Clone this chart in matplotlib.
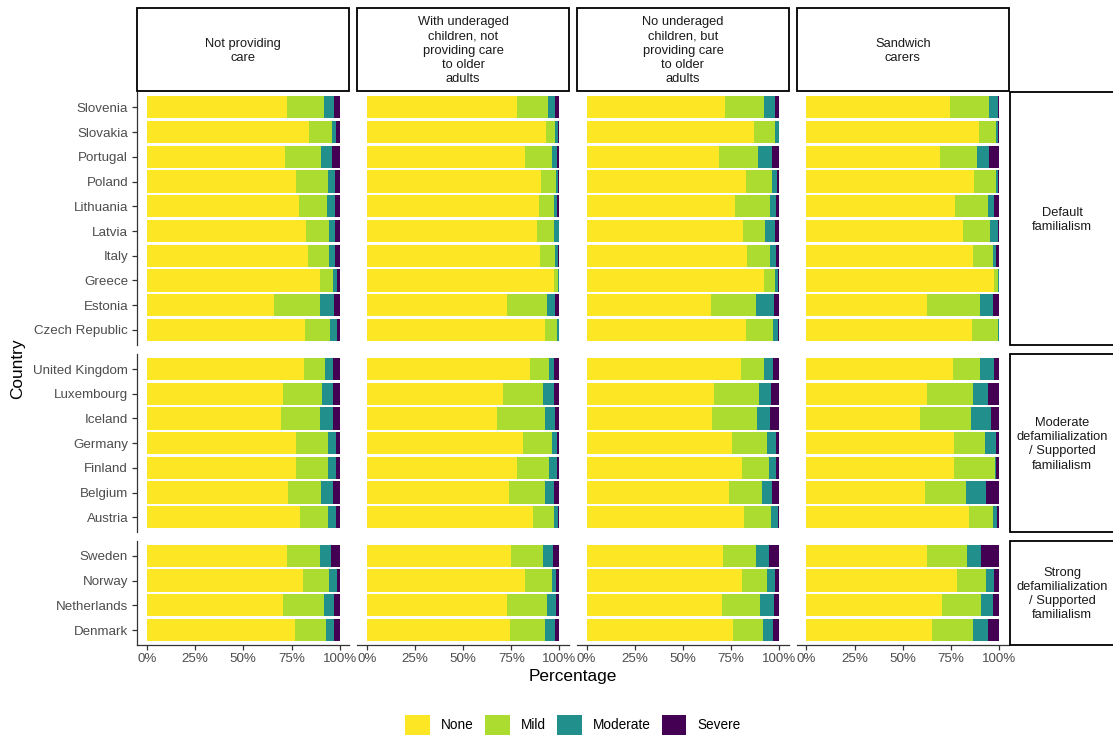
import matplotlib
matplotlib.use("Agg")
import matplotlib.pyplot as plt
import numpy as np
from matplotlib.patches import Rectangle

plt.rcParams["font.family"] = ["Liberation Sans", "DejaVu Sans"]

# categories / labels
levels = ["None", "Mild", "Moderate", "Severe"]
colors = ["#FDE725", "#ADDC30", "#21908C", "#440154"]

care_groups = ["Not providing\ncare",
               "With underaged\nchildren, not\nproviding care\nto older\nadults",
               "No underaged\nchildren, but\nproviding care\nto older\nadults",
               "Sandwich\ncarers"]

regimes = ["Default\nfamilialism",
           "Moderate\ndefamilialization\n/ Supported\nfamilialism",
           "Strong\ndefamilialization\n/ Supported\nfamilialism"]

default_countries = ["Slovenia", "Slovakia", "Portugal", "Poland", "Lithuania",
                     "Latvia", "Italy", "Greece", "Estonia", "Czech Republic"]
moderate_countries = ["United Kingdom", "Luxembourg", "Iceland", "Germany",
                      "Finland", "Belgium", "Austria"]
strong_countries = ["Sweden", "Norway", "Netherlands", "Denmark"]

# percentages: None, Mild, Moderate, Severe (countries in order above)
not_providing = [
    [72.7, 19.2, 5.0, 3.1], [84.3, 11.5, 2.5, 1.7], [71.6, 18.9, 5.7, 3.8],
    [77.5, 16.3, 4.0, 2.2], [79.1, 14.5, 3.8, 2.6], [82.5, 12.0, 3.3, 2.2],
    [83.7, 10.9, 3.2, 2.2], [90.0, 6.7, 2.1, 1.2], [66.1, 23.9, 7.1, 2.9],
    [81.8, 13.2, 3.6, 1.4],
    [81.5, 10.7, 4.2, 3.6], [70.6, 20.4, 5.7, 3.3], [69.7, 20.3, 6.7, 3.3],
    [77.2, 16.9, 4.0, 1.9], [77.5, 16.6, 3.8, 2.1], [73.2, 17.3, 6.2, 3.3],
    [79.6, 14.5, 4.0, 1.9],
    [72.7, 17.3, 5.5, 4.5], [81.0, 13.6, 4.0, 1.4], [70.6, 21.1, 5.4, 2.9],
    [77.0, 15.7, 4.2, 3.1],
]
children_only = [
    [78.0, 16.3, 3.6, 2.1], [93.1, 4.7, 1.5, 0.7], [82.2, 14.0, 2.4, 1.4],
    [90.3, 8.0, 1.0, 0.7], [89.6, 7.6, 1.6, 1.2], [88.4, 9.0, 2.1, 0.5],
    [90.0, 7.8, 1.3, 0.9], [97.4, 1.7, 0.7, 0.2], [72.7, 20.7, 4.4, 2.2],
    [92.6, 6.0, 1.1, 0.3],
    [84.9, 9.6, 2.9, 2.6], [70.8, 20.7, 5.7, 2.8], [67.6, 24.8, 5.5, 2.1],
    [81.1, 15.1, 2.6, 1.2], [78.0, 16.5, 4.3, 1.2], [73.9, 18.5, 4.8, 2.8],
    [86.3, 10.8, 2.2, 0.7],
    [74.9, 16.6, 5.2, 3.3], [82.2, 14.0, 2.2, 1.6], [72.8, 20.6, 4.7, 1.9],
    [74.4, 18.3, 5.1, 2.2],
]
older_only = [
    [71.8, 20.4, 5.4, 2.4], [86.9, 10.7, 2.2, 0.2], [68.9, 19.9, 7.4, 3.8],
    [82.7, 13.5, 2.6, 1.2], [76.8, 18.5, 3.1, 1.6], [81.3, 11.3, 5.3, 2.1],
    [83.0, 12.3, 3.1, 1.6], [92.0, 5.9, 1.4, 0.7], [64.5, 23.4, 9.3, 2.8],
    [82.7, 14.0, 2.4, 0.9],
    [79.9, 12.1, 4.5, 3.5], [66.1, 23.3, 6.1, 4.5], [64.9, 23.5, 6.9, 4.7],
    [75.4, 18.2, 4.8, 1.6], [80.8, 14.0, 3.6, 1.6], [74.0, 16.8, 5.4, 3.8],
    [81.8, 14.0, 3.5, 0.7],
    [70.6, 17.3, 6.9, 5.2], [80.6, 13.0, 4.3, 2.1], [70.2, 19.8, 7.4, 2.6],
    [75.8, 15.7, 5.2, 3.3],
]
sandwich = [
    [74.4, 20.4, 4.7, 0.5], [89.4, 9.2, 0.7, 0.7], [69.2, 19.6, 6.2, 5.0],
    [87.0, 11.3, 1.2, 0.5], [77.3, 17.2, 2.7, 2.8], [81.5, 13.7, 4.1, 0.7],
    [86.3, 10.4, 1.7, 1.6], [97.4, 1.9, 0.5, 0.2], [62.8, 27.2, 6.9, 3.1],
    [86.2, 13.1, 0.5, 0.2],
    [76.0, 14.3, 6.9, 2.8], [62.5, 24.2, 7.8, 5.5], [58.8, 26.5, 10.7, 4.0],
    [76.8, 15.8, 6.0, 1.4], [76.8, 21.3, 0.2, 1.7], [61.8, 20.9, 10.6, 6.7],
    [84.6, 12.1, 2.4, 0.9],
    [62.8, 20.4, 7.3, 9.5], [78.2, 14.9, 4.1, 2.8], [70.6, 20.2, 6.1, 3.1],
    [65.1, 21.2, 7.8, 5.9],
]

panels = [not_providing, children_only, older_only, sandwich]
country_groups = [default_countries, moderate_countries, strong_countries]

W, H = 1113, 738
fig = plt.figure(figsize=(W / 100, H / 100), dpi=100)

# layout in pixels
col_left = [137.4, 357.2, 577.0, 796.8]
col_w = 211.9
rows_px = [(92.5, 344.8), (354.2, 532.1), (540.9, 644.9)]
grey30 = "#4D4D4D"
fs = 9.6
strip_fs = 9.3

handles = None
for r, countries in enumerate(country_groups):
    start = sum(len(g) for g in country_groups[:r])
    n = len(countries)
    top, bot = rows_px[r]
    for c, data in enumerate(panels):
        ax = fig.add_axes([col_left[c] / W, 1 - bot / H, col_w / W, (bot - top) / H])
        vals = np.array(data[start:start + n])
        y = np.arange(n)
        left = np.zeros(n)
        bars = []
        for k in range(4):
            b = ax.barh(y, vals[:, k], left=left, height=0.9, color=colors[k],
                        edgecolor="none", label=levels[k])
            bars.append(b)
            left += vals[:, k]
        handles = bars
        ax.set_xlim(-5, 105)
        ax.set_ylim(n - 0.4, -0.6)
        ax.set_xticks([0, 25, 50, 75, 100])
        ax.set_xticklabels(["0%", "25%", "50%", "75%", "100%"])
        ax.set_yticks(y)
        ax.set_yticklabels(countries)
        for s in ["top", "right"]:
            ax.spines[s].set_visible(False)
        for s in ["left", "bottom"]:
            ax.spines[s].set_color("#333333")
            ax.spines[s].set_linewidth(0.9)
        ax.tick_params(axis="both", length=3.7, width=0.9, color="#333333",
                       labelcolor=grey30, labelsize=fs)
        ax.tick_params(axis="y", pad=3.0)
        ax.tick_params(axis="x", pad=1.8)
        if c != 0:
            ax.spines["left"].set_visible(False)
            ax.tick_params(axis="y", left=False, labelleft=False)
        if r != 2:
            ax.spines["bottom"].set_visible(False)
            ax.tick_params(axis="x", bottom=False, labelbottom=False)
        ax.set_facecolor("none")

# top strips
for c, lab in enumerate(care_groups):
    x0, y0, y1 = col_left[c], 7.5, 91
    fig.add_artist(Rectangle((x0 / W, 1 - y1 / H), col_w / W, (y1 - y0) / H,
                             transform=fig.transFigure, facecolor="white",
                             edgecolor="black", linewidth=1.3))
    fig.text((x0 + col_w / 2) / W, 1 - ((y0 + y1) / 2 + 1.5) / H, lab, ha="center",
             va="center", fontsize=strip_fs, color="#1A1A1A", linespacing=1.25)

# right strips
for r, lab in enumerate(regimes):
    top, bot = rows_px[r]
    x0, x1 = 1010, 1126
    fig.add_artist(Rectangle((x0 / W, 1 - bot / H), (x1 - x0) / W, (bot - top) / H,
                             transform=fig.transFigure, facecolor="white",
                             edgecolor="black", linewidth=1.3))
    fig.text(1062 / W, 1 - ((top + bot) / 2 + 1) / H, lab, ha="center",
             va="center", fontsize=strip_fs, color="#1A1A1A", linespacing=1.25)

fig.text(573 / W, 1 - 677 / H, "Percentage", ha="center", va="center", fontsize=12.4)
fig.text(18 / W, 1 - 368.7 / H, "Country", ha="center", va="center",
         rotation=90, fontsize=12.4)

fig.legend(handles=handles, labels=levels, loc="center",
           bbox_to_anchor=(573 / W, 1 - 725 / H), ncol=4, frameon=False,
           fontsize=9.8, handlelength=1.8, handleheight=1.8,
           handletextpad=0.8, columnspacing=0.85)

fig.savefig("out.png", dpi=100)
